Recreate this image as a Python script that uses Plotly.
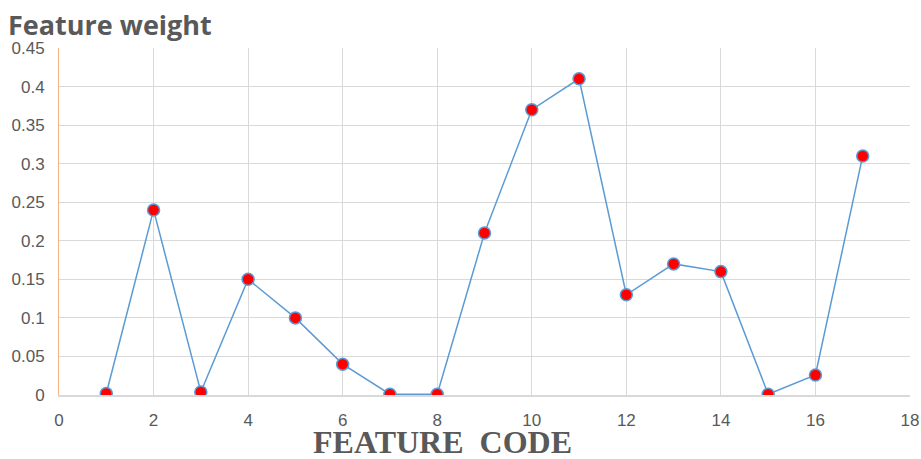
import plotly.graph_objects as go

feature_code = [1, 2, 3, 4, 5, 6, 7, 8, 9, 10, 11, 12, 13, 14, 15, 16, 17]
feature_weight = [0.002, 0.24, 0.004, 0.15, 0.10, 0.04, 0.001, 0.001, 0.21, 0.37,
                  0.41, 0.13, 0.17, 0.16, 0.001, 0.026, 0.31]
x_ticks = [0, 2, 4, 6, 8, 10, 12, 14, 16, 18]
y_ticks = [0, 0.05, 0.1, 0.15, 0.2, 0.25, 0.3, 0.35, 0.4, 0.45]
y_labels = ["0", "0.05", "0.1", "0.15", "0.2", "0.25", "0.3", "0.35", "0.4", "0.45"]

fig = go.Figure()
fig.add_trace(go.Scatter(
    x=feature_code, y=feature_weight, mode="lines+markers",
    line=dict(color="#5b9bd5", width=1.5),
    marker=dict(color="#ff0000", size=12, line=dict(color="#5b9bd5", width=1.5)),
    showlegend=False,
))

tick_font = dict(family="Liberation Sans Narrow, Arial Narrow, Liberation Sans, sans-serif", size=17, color="#595959")

fig.update_layout(
    width=921, height=459,
    margin=dict(l=59, r=11, t=48, b=64, autoexpand=False),
    paper_bgcolor="white", plot_bgcolor="white",
    xaxis=dict(range=[0, 18], tickvals=x_ticks, showgrid=True, gridcolor="#d9d9d9", gridwidth=1,
               zeroline=False, showline=True, linecolor="#d9d9d9", linewidth=1.5,
               tickfont=tick_font, ticks="", automargin=False, ticklabelstandoff=9),
    yaxis=dict(range=[0, 0.45], tickvals=y_ticks, ticktext=y_labels, showgrid=True,
               gridcolor="#d9d9d9", gridwidth=1, zeroline=False, automargin=False,
               showline=True, linecolor="#f4b183", linewidth=1,
               tickfont=tick_font, ticks="", ticklabelstandoff=10),
)
fig.add_annotation(text="<b>Feature weight</b>", xref="paper", yref="paper",
                   x=-59/851, y=1 + 48/347, xanchor="left", yanchor="top", yshift=-4, xshift=6,
                   showarrow=False,
                   font=dict(family="Open Sans, Liberation Sans, sans-serif", size=27, color="#595959"))
fig.add_annotation(text="<b>FEATURE  CODE</b>", xref="paper", yref="paper",
                   x=(442 - 59) / 851, y=0, xanchor="center", yanchor="top", yshift=-28,
                   showarrow=False, borderpad=0,
                   font=dict(family="Liberation Serif, DejaVu Serif, serif", size=32, color="#595959"))

fig.write_html("out.html", config={"displayModeBar": False},
               post_script="document.body.style.margin='0';document.body.style.overflow='hidden';")
